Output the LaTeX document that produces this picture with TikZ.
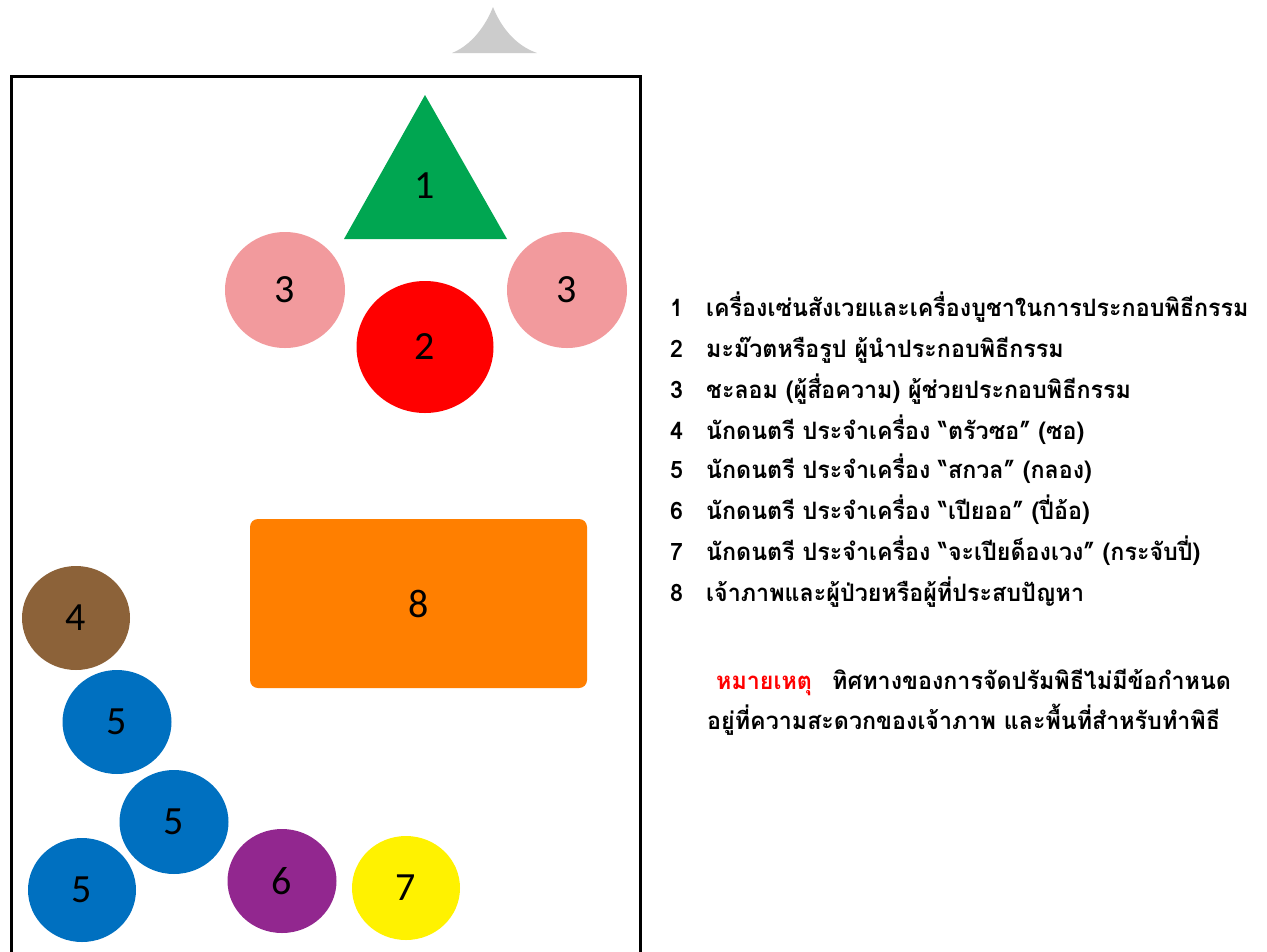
\documentclass[tikz,border=0pt]{standalone}
\usepackage{fontspec}
\usetikzlibrary{shapes.geometric}
\newfontfamily\thaifont[Script=Thai,FakeStretch=0.97]{Loma}
\newfontfamily\numfont{Carlito}
\definecolor{cgreen}{HTML}{00A651}
\definecolor{cpink}{HTML}{F29A9D}
\definecolor{cred}{HTML}{FF0000}
\definecolor{corange}{HTML}{FF7F00}
\definecolor{cbrown}{HTML}{8C6239}
\definecolor{cblue}{HTML}{0070C0}
\definecolor{cpurple}{HTML}{92278F}
\definecolor{cyellow}{HTML}{FFF200}
\definecolor{cgrey}{HTML}{CCCCCC}
\tikzset{
  spot/.style={ellipse, inner sep=0pt, fill=#1, font=\numfont\fontsize{40}{40}\selectfont},
  lbl/.style={inner sep=0pt, font=\numfont\fontsize{40}{40}\selectfont},
  legend/.style={anchor=base west, inner sep=0pt, font=\thaifont\bfseries\fontsize{24}{24}\selectfont},
}
\newcommand{\lnum}[1]{\makebox[36pt][l]{#1}}
\begin{document}
\begin{tikzpicture}[x=1pt,y=-1pt]
\useasboundingbox (0,0) rectangle (1267,951);
\fill[white] (0,0) rectangle (1267,951);
% grey tent shape
\fill[cgrey] (452,53) .. controls (472,45) and (486,25) .. (493,7)
  .. controls (500,25) and (514,45) .. (537,53) -- cycle;
% frame
\draw[line width=3pt] (11,960) -- (11,76) -- (640,76) -- (640,960);
% triangle 1
\fill[cgreen] (425,95) -- (507,239) -- (344,239) -- cycle;
\node[lbl] (n1) at (425,186) {1};
% circles
\node[spot=cpink, minimum width=120pt, minimum height=116pt] (n3a) at (285,290) {3};
\node[spot=cpink, minimum width=120pt, minimum height=116pt] (n3b) at (567,290) {3};
\node[spot=cred, minimum width=137pt, minimum height=132pt] (n2) at (425,347) {2};
\node[fill=corange, rounded corners=8pt, minimum width=337pt, minimum height=169pt, inner sep=0pt, font=\numfont\fontsize{40}{40}\selectfont] (n8) at (418.5,603.5) {8};
\node[spot=cbrown, minimum width=108pt, minimum height=104pt] (n4) at (76,618) {4};
\node[spot=cblue, minimum width=109pt, minimum height=104pt] (n5a) at (117,722) {5};
\node[spot=cblue, minimum width=109pt, minimum height=104pt] (n5b) at (174,822) {5};
\node[spot=cblue, minimum width=108pt, minimum height=104pt] (n5c) at (82,890) {5};
\node[spot=cpurple, minimum width=109pt, minimum height=104pt] (n6) at (282,881) {6};
\node[spot=cyellow, minimum width=108pt, minimum height=104pt] (n7) at (406,888) {7};
% legend
\node[legend] (l1) at (670,316) {\lnum{1}เครื่องเซ่นสังเวยและเครื่องบูชาในการประกอบพิธีกรรม};
\node[legend] (l2) at (670,357) {\lnum{2}มะม๊วตหรือรูป ผู้นำประกอบพิธีกรรม};
\node[legend] (l3) at (670,398) {\lnum{3}ชะลอม (ผู้สื่อความ) ผู้ช่วยประกอบพิธีกรรม};
\node[legend] (l4) at (670,439) {\lnum{4}นักดนตรี ประจำเครื่อง “ตรัวซอ” (ซอ)};
\node[legend] (l5) at (670,478) {\lnum{5}นักดนตรี ประจำเครื่อง “สกวล” (กลอง)};
\node[legend] (l6) at (670,519) {\lnum{6}นักดนตรี ประจำเครื่อง “เปียออ” (ปี่อ้อ)};
\node[legend] (l7) at (670,560) {\lnum{7}นักดนตรี ประจำเครื่อง “จะเปียด็องเวง” (กระจับปี่)};
\node[legend] (l8) at (670,601) {\lnum{8}เจ้าภาพและผู้ป่วยหรือผู้ที่ประสบปัญหา};
% note
\node[legend, text=cred] (nt) at (716,689) {หมายเหตุ};
\node[legend] (nt1) at (832,689) {ทิศทางของการจัดปรัมพิธีไม่มีข้อกำหนด};
\node[legend] (nt2) at (707,729) {อยู่ที่ความสะดวกของเจ้าภาพ และพื้นที่สำหรับทำพิธี};
\end{tikzpicture}
\end{document}
